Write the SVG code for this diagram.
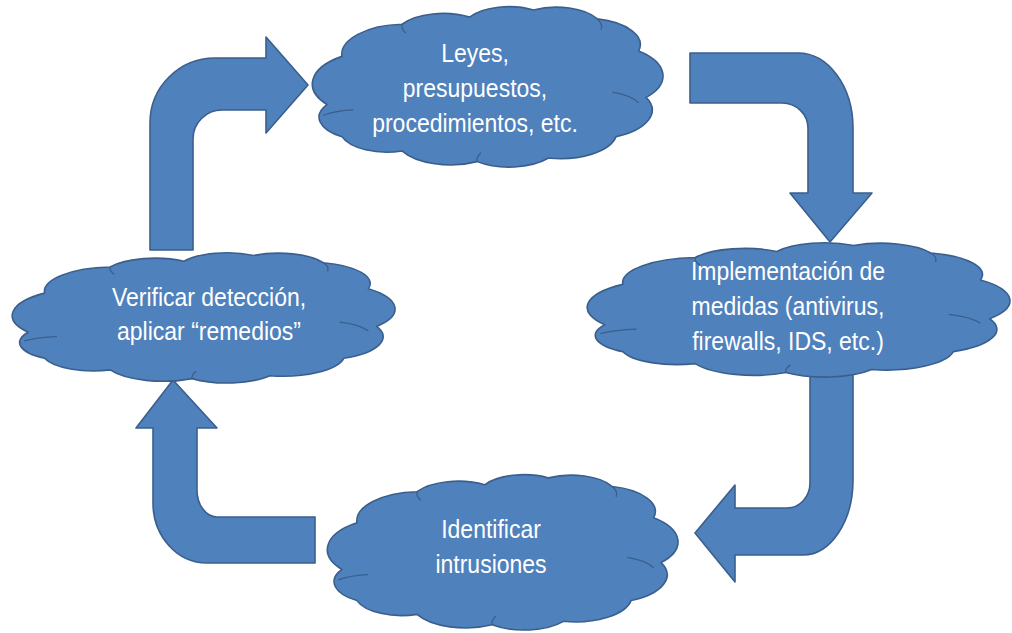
<svg xmlns="http://www.w3.org/2000/svg" xmlns:xlink="http://www.w3.org/1999/xlink" width="1012" height="633" viewBox="0 0 1012 633">
<style>
.shape{fill:#4F81BD;stroke:#3A5F8C;stroke-width:1.6;stroke-linejoin:round}
.fold{fill:none;stroke:#3A5F8C;stroke-width:1.3}
.lbl{font-family:"Liberation Sans",Arial,sans-serif;font-size:23px;fill:#FFFFFF;text-anchor:middle}
</style>
<defs>
<path id="cloud" vector-effect="non-scaling-stroke" d="M8,60 A19.1,19.1 0 0 1 12,33 A16.9,16.9 0 0 1 28,15 A12.9,12.9 0 0 1 46,11 A12.3,12.3 0 0 1 63,7 A12.4,12.4 0 0 1 80,12 A14.8,14.8 0 0 1 91,30 A18.3,18.3 0 0 1 93,56 A16.4,16.4 0 0 1 85,78 A15.1,15.1 0 0 1 67,90 A13.4,13.4 0 0 1 48,92 A14.6,14.6 0 0 1 28,86 A12.5,12.5 0 0 1 12,78 A12.9,12.9 0 0 1 8,60 Z"/>
<path id="folds" vector-effect="non-scaling-stroke" d="M7,66 A14,12 0 0 1 15,63 M84,53 A12,12 0 0 1 91,59 M48,92 A9,9 0 0 1 49,87 M28,15 A9,9 0 0 0 29,20 M80,12 A9,9 0 0 1 81,18"/>
</defs>
<rect width="1012" height="633" fill="#FFFFFF"/>
<g id="connectors">
<path class="shape" d="M150,250 L150,123 A65,65 0 0 1 215,58 L266,58 L266,37 L308,85 L266,133 L266,110 L222,110 A29,29 0 0 0 193,139 L193,250 Z"/>
<path class="shape" d="M690,53 L798,53 A55,75 0 0 1 853,128 L853,193 L872,193 L830,242 L790,193 L808,193 L808,128 A26,25 0 0 0 782,103 L690,103 Z"/>
<path class="shape" d="M810,365 L853,365 L853,480 A50,75 0 0 1 803,555 L735,555 L735,582 L695,533 L735,485 L735,508 L787,508 A23,25 0 0 0 810,483 Z"/>
<path class="shape" d="M315,517 L217,517 A20,27 0 0 1 197,490 L197,428 L217,428 L173,380 L136,428 L153,428 L153,503 A54,60 0 0 0 207,563 L315,563 Z"/>
</g>
<g id="node-leyes">
<g transform="translate(296.9,-2.5) scale(3.755,1.784)"><use xlink:href="#cloud" class="shape"/><use xlink:href="#folds" class="fold"/></g>
<text class="lbl" transform="translate(475,62) scale(1,1.15)"><tspan x="0" y="0">Leyes,</tspan><tspan x="0" dy="30.4">presupuestos,</tspan><tspan x="0" dy="30.4">procedimientos, etc.</tspan></text>
</g>
<g id="node-implementacion">
<g transform="translate(568.5,235.1) scale(4.528,1.494)"><use xlink:href="#cloud" class="shape"/><use xlink:href="#folds" class="fold"/></g>
<text class="lbl" transform="translate(788,280) scale(1,1.15)"><tspan x="0" y="0">Implementación de</tspan><tspan x="0" dy="30.4">medidas (antivirus,</tspan><tspan x="0" dy="30.4">firewalls, IDS, etc.)</tspan></text>
</g>
<g id="node-verificar">
<g transform="translate(-4.6,245.3) scale(4.099,1.449)"><use xlink:href="#cloud" class="shape"/><use xlink:href="#folds" class="fold"/></g>
<text class="lbl" transform="translate(209,306) scale(1,1.15)"><tspan x="0" y="0">Verificar detección,</tspan><tspan x="0" dy="29.6">aplicar “remedios”</tspan></text>
</g>
<g id="node-identificar">
<g transform="translate(311.9,465.8) scale(3.755,1.728)"><use xlink:href="#cloud" class="shape"/><use xlink:href="#folds" class="fold"/></g>
<text class="lbl" transform="translate(491,538) scale(1,1.15)"><tspan x="0" y="0">Identificar</tspan><tspan x="0" dy="30.4">intrusiones</tspan></text>
</g>
</svg>
